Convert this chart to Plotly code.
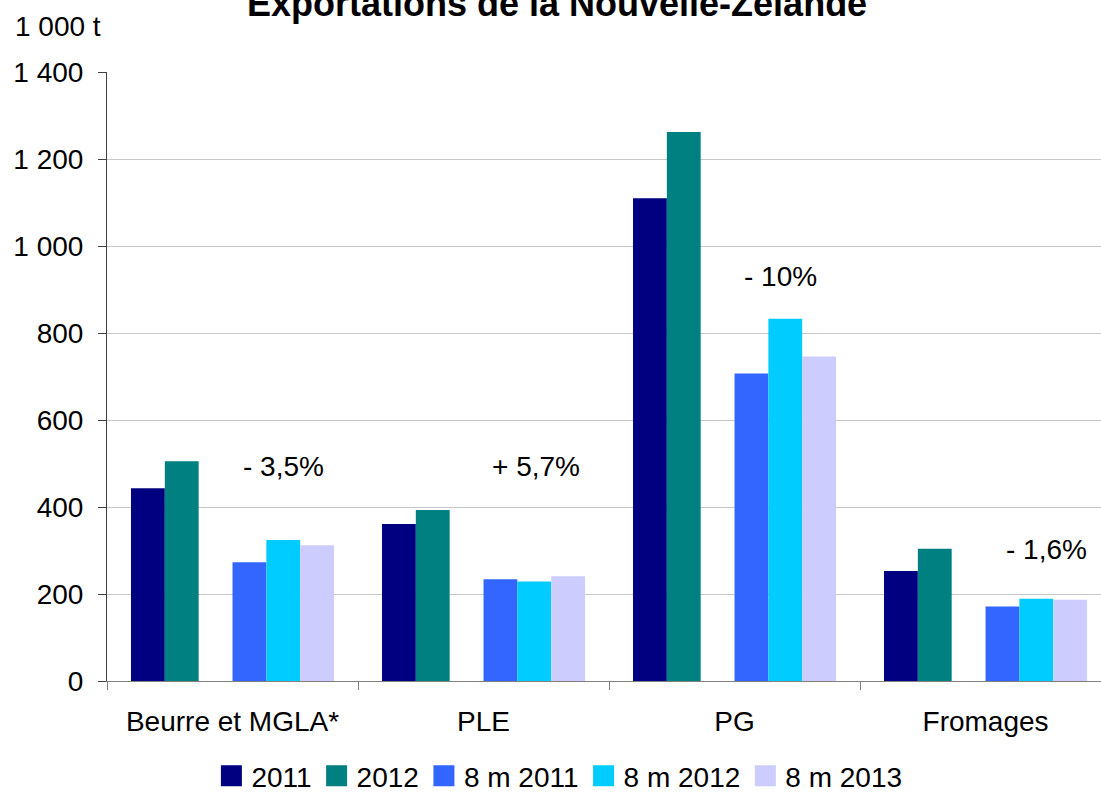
import plotly.graph_objects as go

categories = ["Beurre et MGLA*", "PLE", "PG", "Fromages"]
series_names = ["2011", "2012", "8 m 2011", "8 m 2012", "8 m 2013"]
v_2011 = [443, 361, 1110, 253]
v_2012 = [505, 393, 1262, 304]
v_8m2011 = [273, 234, 707, 171]
v_8m2012 = [324, 229, 833, 189]
v_8m2013 = [312, 241, 746, 187]
series_values = [v_2011, v_2012, v_8m2011, v_8m2012, v_8m2013]
colors = ["#000080", "#008080", "#3366FF", "#00CCFF", "#CCCCFF"]

pct_labels = ["- 3,5%", "+ 5,7%", "- 10%", "- 1,6%"]
pct_y = [494, 494, 931, 303]
pct_x_offset = [0.205, 0.209, 0.185, 0.241]

FONT = "Liberation Sans, Arial, sans-serif"

fig = go.Figure()

def add_bar(i):
    fig.add_trace(go.Bar(
        x=categories, y=series_values[i], name=series_names[i],
        marker=dict(color=colors[i], line=dict(width=0)),
        legendgroup=series_names[i], showlegend=False,
    ))

add_bar(0)
add_bar(1)
# empty slot between annual and 8-month groups
fig.add_trace(go.Bar(
    x=categories, y=[0] * len(categories), name="",
    marker=dict(color="rgba(0,0,0,0)", line=dict(width=0)),
    showlegend=False, hoverinfo="skip",
))
add_bar(2)
add_bar(3)
add_bar(4)

# legend entries (larger square symbols)
for name, c in zip(series_names, colors):
    fig.add_trace(go.Scatter(
        x=[None], y=[None], mode="markers", name=name, legendgroup=name,
        marker=dict(symbol="square", size=16, color=c, line=dict(color=c, width=5)),
        hoverinfo="skip",
    ))

annotations = []
for i, (lab, yv, off) in enumerate(zip(pct_labels, pct_y, pct_x_offset)):
    annotations.append(dict(
        x=i + off, y=yv, xref="x", yref="y", text=lab, showarrow=False,
        font=dict(family=FONT, size=28, color="#000000"),
        xanchor="center", yanchor="middle",
    ))

annotations.append(dict(
    x=0.453, y=1.075, xref="paper", yref="paper",
    text="<b>Exportations de la Nouvelle-Zélande</b>", showarrow=False,
    font=dict(family=FONT, size=36, color="#000000"),
    xanchor="center", yanchor="bottom",
))
annotations.append(dict(
    x=-0.0946, y=1.0739, xref="paper", yref="paper",
    text="1 000 t", showarrow=False,
    font=dict(family=FONT, size=28, color="#000000"),
    xanchor="left", yanchor="middle",
))

fig.update_layout(
    width=1101, height=796,
    margin=dict(l=107, r=0, t=72, b=115, pad=0, autoexpand=False),
    paper_bgcolor="white", plot_bgcolor="white",
    barmode="group", bargap=0.191, bargroupgap=0,
    separators=", ",
    font=dict(family=FONT, size=28, color="#000000"),
    showlegend=True,
    legend=dict(
        orientation="h", xref="container", yref="paper",
        x=0.192, xanchor="left", y=-0.115, yanchor="top",
        font=dict(family=FONT, size=28, color="#000000"),
        bgcolor="rgba(0,0,0,0)", itemclick=False, itemdoubleclick=False,
    ),
    annotations=annotations,
)

fig.update_xaxes(
    type="category", range=[-0.5, 3.46],
    showline=True, linecolor="#808080", linewidth=1,
    ticks="outside", tickson="boundaries", ticklen=8, tickcolor="#808080",
    showgrid=False, ticklabelstandoff=15,
    tickfont=dict(family=FONT, size=28, color="#000000"),
)
fig.update_yaxes(
    range=[0, 1400], dtick=200, tickformat=",d",
    showgrid=True, gridcolor="#C8C8C8", gridwidth=1,
    showline=True, linecolor="#404040", linewidth=1,
    ticks="outside", ticklen=8, tickcolor="#404040",
    zeroline=False, ticklabelstandoff=9,
    tickfont=dict(family=FONT, size=28, color="#000000"),
)

fig.write_html(
    "out.html",
    config={"displayModeBar": False},
    post_script="document.body.style.margin='0';document.body.style.padding='0';",
)
